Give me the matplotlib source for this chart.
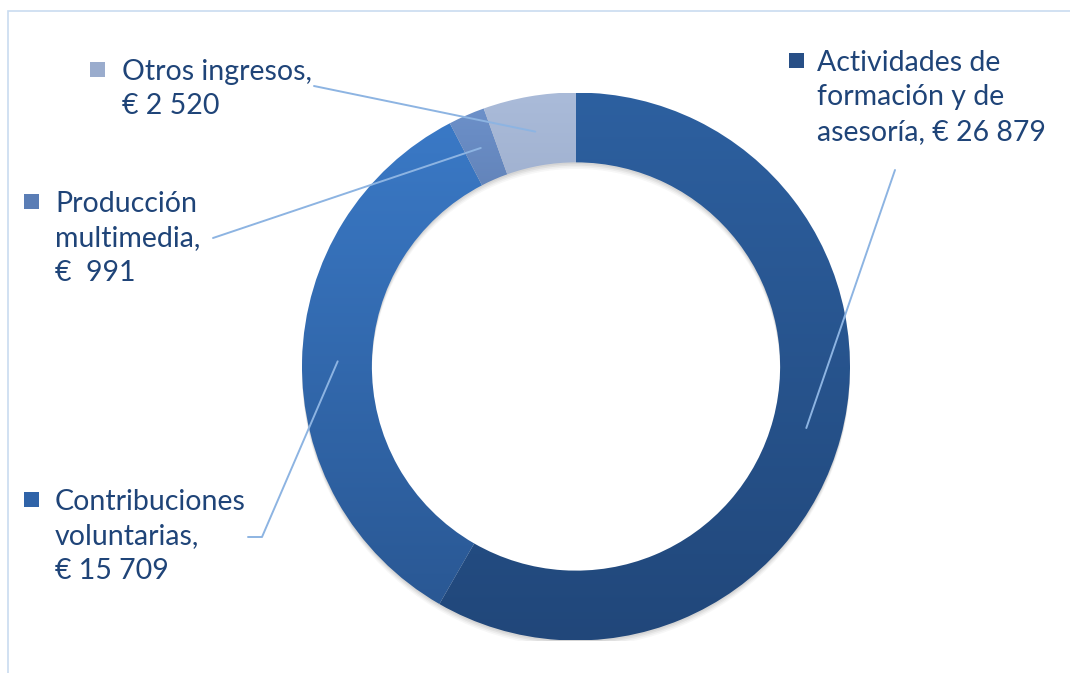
import numpy as np
import matplotlib.pyplot as plt
from matplotlib.colors import LinearSegmentedColormap
from matplotlib.patches import Rectangle, Wedge

# Ingresos por fuente (euros)
categories = ["Actividades de formación y de asesoría", "Contribuciones voluntarias",
              "Producción multimedia", "Otros ingresos"]
values = [26879, 15709, 991, 2520]
label_texts = ["Actividades de\nformación y de\nasesoría, € 26 879",
               "Contribuciones\nvoluntarias,\n€ 15 709",
               "Producción\nmultimedia,\n€  991",
               "Otros ingresos,\n€ 2 520"]

# gradient top -> bottom for each slice
grad_colors = [("#2d60a0", "#21477a"),
               ("#3a79c6", "#2a5894"),
               ("#6c90c9", "#4f6a99"),
               ("#aabbd9", "#8fa0c0")]
marker_colors = ["#284f86", "#2f63a8", "#5a7db5", "#9aaccd"]
text_color = "#1f4478"
leader_color = "#8db4e2"

W, H = 1070, 673
cx, cy, R = 576, 366.5, 274

fig = plt.figure(figsize=(W / 100, H / 100), dpi=100)
fig.patch.set_facecolor("white")

# chart frame (only left/top edges visible in the crop)
fig.patches.append(Rectangle((8 / W, -0.1), 1.2, 1 - 11 / H + 0.1, transform=fig.transFigure,
                             fill=False, edgecolor="#c9dcf0", linewidth=1.2))

ax = fig.add_axes([(cx - R) / W, (H - cy - R) / H, 2 * R / W, 2 * R / H])
ax.set_axis_off()

ring = 0.255
# soft shadow under the ring
for k, a in enumerate([0.05, 0.05, 0.04, 0.03]):
    off = 0.006 * (k + 1)
    ax.add_patch(Wedge((0, -off), 1.0, 0, 360, width=ring, facecolor="#000000",
                       edgecolor="none", alpha=a, zorder=0))

wedges, _ = ax.pie(values, startangle=90, counterclock=False, radius=1.0,
                   wedgeprops=dict(width=ring, edgecolor="none"))

ys = np.linspace(0, 1, 256).reshape(-1, 1)
for w, (c_top, c_bot) in zip(wedges, grad_colors):
    w.set_facecolor("none")
    # gradient spans the slice's own vertical extent
    verts = w.get_path().vertices
    verts = w.get_patch_transform().transform(verts)
    y0, y1 = verts[:, 1].min(), verts[:, 1].max()
    cmap = LinearSegmentedColormap.from_list("g", [c_bot, c_top])
    im = ax.imshow(ys, cmap=cmap, extent=(-1, 1, y0, y1), origin="lower",
                   aspect="auto", zorder=1, vmin=0, vmax=1)
    im.set_clip_path(w)

ax.set_xlim(-1, 1)
ax.set_ylim(-1, 1)
ax.set_aspect("equal")

# overlay axes in pixel coordinates for labels and leader lines
ov = fig.add_axes([0, 0, 1, 1], facecolor="none")
ov.set_xlim(0, W)
ov.set_ylim(H, 0)
ov.set_axis_off()

font = ["Lato", "DejaVu Sans"]
fs = 20.5
# (marker x, first-line y, text x, leader start)
label_pos = [
    (797, 61, 817, [(895, 170)]),
    (32, 500, 55, [(248, 537), (262, 537)]),
    (32, 202, 55, [(213, 238)]),
    (98, 70, 122, [(314, 86)]),
]

total = sum(values)
start = 90.0
for val, txt, mc, (mx, ty, tx, pts) in zip(values, label_texts, marker_colors, label_pos):
    span = 360.0 * val / total
    mid = np.deg2rad(start - span / 2)
    start -= span
    ex = cx + 0.87 * R * np.cos(mid)
    ey = cy - 0.87 * R * np.sin(mid)
    xs = [p[0] for p in pts] + [ex]
    yy = [p[1] for p in pts] + [ey]
    ov.plot(xs, yy, color=leader_color, linewidth=1.4, zorder=5, solid_capstyle="round")
    ov.add_patch(Rectangle((mx - 8, ty - 8), 15, 15, facecolor=mc, edgecolor="none"))
    ov.text(tx, ty - 11, txt, ha="left", va="top", fontsize=fs, color=text_color,
            family=font, linespacing=1.4)

fig.savefig("out.png", dpi=100, facecolor="white")
